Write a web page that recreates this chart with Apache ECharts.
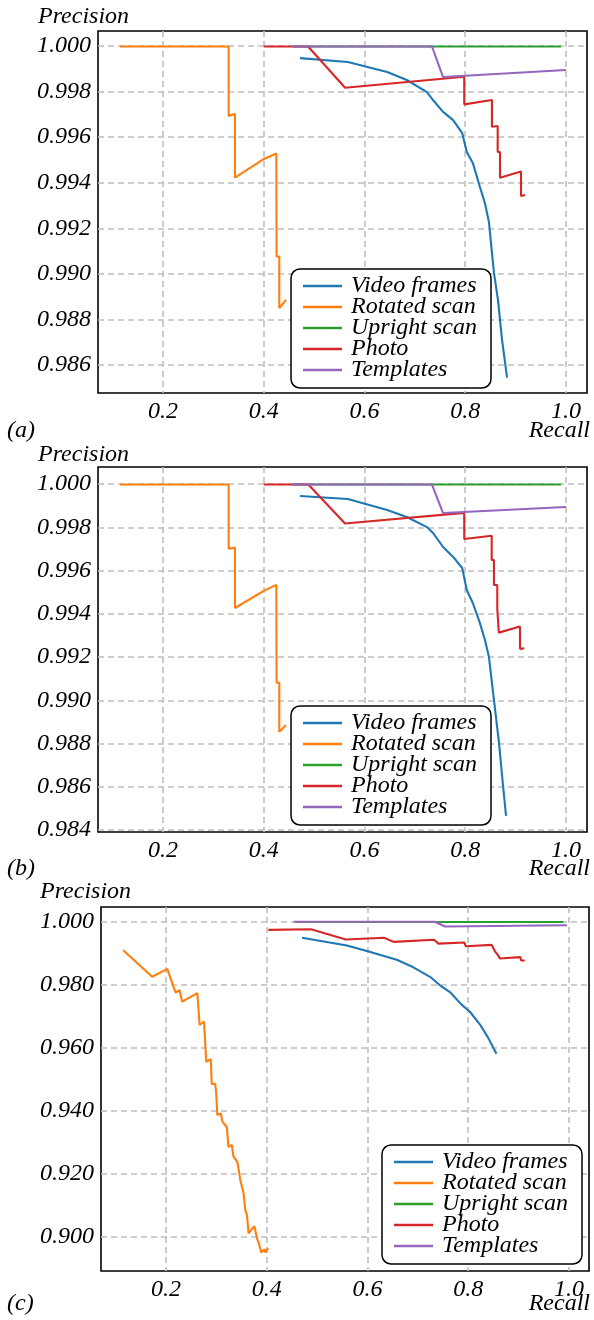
<!DOCTYPE html>
<html>
<head>
<meta charset="utf-8">
<script src="https://cdn.jsdelivr.net/npm/echarts@6/dist/echarts.min.js"></script>
<style>
html,body{margin:0;padding:0;background:#fff;}
#chart{width:594px;height:1320px;}
</style>
</head>
<body>
<div id="chart"></div>
<script>
// ---------- data ----------
const seriesNames = ['Video frames', 'Rotated scan', 'Upright scan', 'Photo', 'Templates'];
const seriesColors = ['#1f77b4', '#ff7f0e', '#2ca02c', '#d62728', '#9467bd'];
const panelLabels = ['(a)', '(b)', '(c)'];
const recallTicks = [0.2, 0.4, 0.6, 0.8, 1.0];
const precisionTicksA = [0.986, 0.988, 0.990, 0.992, 0.994, 0.996, 0.998, 1.000];
const precisionTicksB = [0.984, 0.986, 0.988, 0.990, 0.992, 0.994, 0.996, 0.998, 1.000];
const precisionTicksC = [0.900, 0.920, 0.940, 0.960, 0.980, 1.000];

// Panel (a)
const videoA = [[0.472,0.99947],[0.567,0.9993],[0.645,0.99886],[0.684,0.99851],[0.724,0.99798],[0.736,0.99763],[0.756,0.99711],[0.776,0.99675],[0.794,0.99618],[0.803,0.99535],[0.815,0.99487],[0.829,0.99382],[0.839,0.99311],[0.847,0.99228],[0.857,0.99004],[0.865,0.98886],[0.873,0.98711],[0.883,0.98544]];
const rotatedA = [[0.1146,0.99998],[0.3304,0.99998],[0.3304,0.99693],[0.3429,0.99703],[0.3429,0.99422],[0.3991,0.99503],[0.425,0.99528],[0.4255,0.99076],[0.4309,0.99076],[0.4309,0.9885],[0.4442,0.98886]];
const uprightA = [[0.46,0.99998],[0.990,0.99998]];
const photoA = [[0.400,0.99998],[0.488,0.99998],[0.5615,0.99817],[0.798,0.99865],[0.798,0.99744],[0.853,0.99763],[0.853,0.99646],[0.8644,0.99649],[0.8644,0.99535],[0.869,0.99535],[0.869,0.99422],[0.9107,0.99449],[0.9107,0.99342],[0.9186,0.99346]];
const templatesA = [[0.456,0.99998],[0.734,0.99998],[0.756,0.99864],[1.0,0.99895]];

// Panel (b)
const videoB = [[0.472,0.99945],[0.567,0.99931],[0.645,0.9988],[0.684,0.99848],[0.724,0.99801],[0.736,0.99774],[0.756,0.99709],[0.776,0.99663],[0.794,0.99612],[0.803,0.9951],[0.815,0.9945],[0.829,0.99358],[0.839,0.9928],[0.847,0.99201],[0.857,0.99002],[0.867,0.98803],[0.875,0.98605],[0.881,0.98466]];
const rotatedB = [[0.1146,0.99998],[0.3304,0.99998],[0.3304,0.99701],[0.3429,0.99706],[0.3429,0.99427],[0.3991,0.99505],[0.425,0.99534],[0.4255,0.99081],[0.4309,0.99081],[0.4309,0.98854],[0.4442,0.98886]];
const uprightB = [[0.46,0.99998],[0.990,0.99998]];
const photoB = [[0.400,0.99998],[0.4885,0.99998],[0.5613,0.99818],[0.798,0.99867],[0.798,0.99746],[0.8525,0.99761],[0.8525,0.99649],[0.857,0.99649],[0.857,0.99533],[0.8636,0.99533],[0.8636,0.99423],[0.8667,0.99423],[0.8667,0.99313],[0.9087,0.99341],[0.9087,0.99238],[0.9172,0.99241]];
const templatesB = [[0.456,0.99998],[0.734,0.99998],[0.756,0.99866],[1.0,0.99894]];

// Panel (c)
const videoC = [[0.470,0.99484],[0.5591,0.99237],[0.5987,0.99065],[0.6581,0.98785],[0.6911,0.98548],[0.7241,0.98247],[0.7439,0.97978],[0.7637,0.97763],[0.7868,0.97366],[0.8033,0.9714],[0.823,0.96742],[0.8396,0.96312],[0.856,0.95806]];
const rotatedC = [[0.115,0.9909],[0.1727,0.9825],[0.2025,0.985],[0.219,0.9775],[0.227,0.9782],[0.2322,0.9746],[0.2622,0.9773],[0.2668,0.9672],[0.2754,0.9683],[0.280,0.9555],[0.2889,0.9564],[0.2908,0.9485],[0.2974,0.9486],[0.2994,0.9463],[0.302,0.9387],[0.3088,0.9392],[0.312,0.9366],[0.3175,0.9355],[0.3208,0.9348],[0.324,0.9286],[0.3307,0.9292],[0.334,0.9255],[0.3387,0.9245],[0.342,0.9236],[0.3475,0.9181],[0.3507,0.9186],[0.354,0.9139],[0.3574,0.9086],[0.3607,0.907],[0.364,0.9012],[0.3753,0.9035],[0.3807,0.8996],[0.384,0.8981],[0.3893,0.8951],[0.3953,0.8962],[0.3973,0.8951],[0.4027,0.8965]];
const uprightC = [[0.46,0.99985],[0.989,0.99985]];
const photoC = [[0.403,0.99734],[0.4878,0.99753],[0.557,0.9943],[0.633,0.99484],[0.6515,0.99355],[0.732,0.9942],[0.741,0.993],[0.7924,0.99333],[0.795,0.99215],[0.8465,0.99258],[0.853,0.99054],[0.86,0.98914],[0.8627,0.98828],[0.9036,0.98871],[0.905,0.98764],[0.9122,0.98764]];
const templatesC = [[0.4535,0.9999],[0.734,0.9999],[0.7538,0.99839],[0.996,0.99882]];

// ---------- layout ----------
const FONT = 'Liberation Serif';
const panels = [
  { grid: {left: 98, top: 31, width: 489, height: 362}, xMin: 0.0710, xMax: 1.0417, yMin: 0.98477, yMax: 1.00066,
    yTicks: precisionTicksA, data: [videoA, rotatedA, uprightA, photoA, templatesA],
    legend: {left: 291, top: 269}, labelY: 432, precY: 18, precX: 84 },
  { grid: {left: 98, top: 467, width: 489, height: 365}, xMin: 0.0710, xMax: 1.0417, yMin: 0.98391, yMax: 1.00079,
    yTicks: precisionTicksB, data: [videoB, rotatedB, uprightB, photoB, templatesB],
    legend: {left: 291, top: 706}, labelY: 870, precY: 456, precX: 84 },
  { grid: {left: 101, top: 907, width: 488, height: 364}, xMin: 0.0710, xMax: 1.0397, yMin: 0.88925, yMax: 1.00459,
    yTicks: precisionTicksC, data: [videoC, rotatedC, uprightC, photoC, templatesC],
    legend: {left: 382, top: 1145}, labelY: 1305, precY: 893, precX: 86 }
];

const labelStyle = {fontFamily: FONT, fontStyle: 'italic', fontSize: 24, color: '#000'};
const splitStyle = {show: true, lineStyle: {color: '#bfbfbf', width: 1.6, type: [6, 4]}};

const grids = [], xAxes = [], yAxes = [], series = [], legends = [], graphics = [];
panels.forEach((p, i) => {
  grids.push(Object.assign({show: true, borderColor: '#000', borderWidth: 1.6, backgroundColor: 'transparent', containLabel: false}, p.grid));
  xAxes.push({
    type: 'value', gridIndex: i, min: p.xMin, max: p.xMax,
    axisLine: {show: false}, axisTick: {show: false, customValues: recallTicks},
    axisLabel: Object.assign({customValues: recallTicks, margin: 7, formatter: v => v.toFixed(1)}, labelStyle),
    splitLine: splitStyle
  });
  yAxes.push({
    type: 'value', gridIndex: i, min: p.yMin, max: p.yMax,
    axisLine: {show: false}, axisTick: {show: false, customValues: p.yTicks},
    axisLabel: Object.assign({customValues: p.yTicks, margin: 7, formatter: v => v.toFixed(3)}, labelStyle),
    splitLine: splitStyle
  });
  seriesNames.forEach((name, k) => {
    series.push({
      type: 'line', name: name, xAxisIndex: i, yAxisIndex: i,
      data: p.data[k], showSymbol: false, symbol: 'none', clip: true,
      lineStyle: {color: seriesColors[k], width: 2.1}, itemStyle: {color: seriesColors[k]},
      animation: false
    });
  });
  legends.push({
    left: p.legend.left, top: p.legend.top, orient: 'vertical', data: seriesNames,
    icon: 'rect', itemWidth: 39, itemHeight: 2.5, itemGap: -3,
    padding: [5, 14, 6, 12], selectedMode: false,
    borderColor: '#000', borderWidth: 1.5, borderRadius: 9, backgroundColor: '#fff',
    textStyle: Object.assign({lineHeight: 21, padding: [0, 0, 0, 4]}, labelStyle)
  });
  graphics.push({type: 'text', left: 7, top: p.labelY - 13, style: {text: panelLabels[i], font: 'italic 24px "' + FONT + '"', fill: '#000'}});
  graphics.push({type: 'text', right: 4, top: p.labelY - 13, style: {text: 'Recall', font: 'italic 24px "' + FONT + '"', fill: '#000'}});
  graphics.push({type: 'text', left: p.precX - 46, top: p.precY - 13, style: {text: 'Precision', font: 'italic 24px "' + FONT + '"', fill: '#000'}});
});

const chart = echarts.init(document.getElementById('chart'), null, {renderer: 'canvas'});
chart.setOption({
  animation: false,
  backgroundColor: '#fff',
  grid: grids, xAxis: xAxes, yAxis: yAxes, series: series, legend: legends, graphic: graphics
});
</script>
</body>
</html>
